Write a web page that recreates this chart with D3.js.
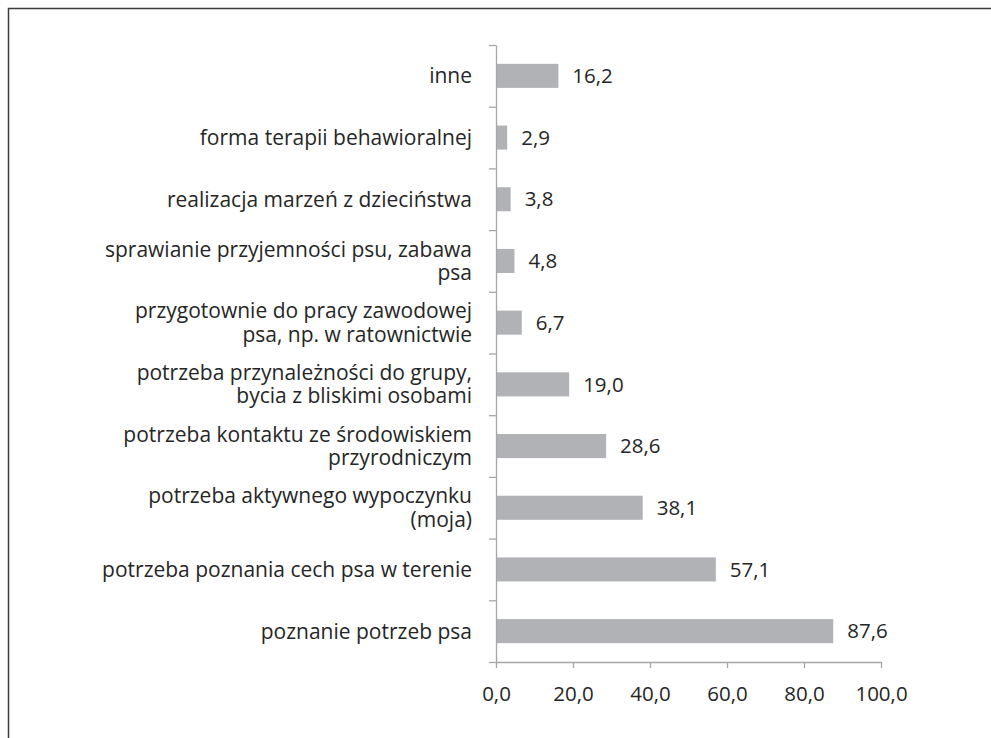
<!DOCTYPE html>
<html>
<head>
<meta charset="utf-8">
<script src="https://cdn.jsdelivr.net/npm/d3@7"></script>
<style>
  body { margin: 0; background: #fff; }
  svg text { font-family: "Open Sans", sans-serif; fill: #262626; }
</style>
</head>
<body>
<svg id="chart" width="991" height="738"></svg>
<script>
// categories top to bottom, line breaks as in the original
var categories = [
  "inne",
  "forma terapii behawioralnej",
  "realizacja marzeń z dzieciństwa",
  "sprawianie przyjemności psu, zabawa\npsa",
  "przygotownie do pracy zawodowej\npsa, np. w ratownictwie",
  "potrzeba przynależności do grupy,\nbycia z bliskimi osobami",
  "potrzeba kontaktu ze środowiskiem\nprzyrodniczym",
  "potrzeba aktywnego wypoczynku\n(moja)",
  "potrzeba poznania cech psa w terenie",
  "poznanie potrzeb psa"
];
var values = [16.2, 2.9, 3.8, 4.8, 6.7, 19.0, 28.6, 38.1, 57.1, 87.6];
var xTicks = [0, 20, 40, 60, 80, 100];

var fmt = function(d) { return d.toFixed(1).replace(".", ","); };

var svg = d3.select("#chart");

// frame of the figure (runs off the right and bottom edge)
svg.append("rect")
    .attr("x", 8.5).attr("y", 8.5)
    .attr("width", 1000).attr("height", 760)
    .attr("fill", "none")
    .attr("stroke", "#3c3c3c")
    .attr("stroke-width", 1.5);

var plotL = 496, plotR = 881, plotT = 45, plotB = 662;

var x = d3.scaleLinear().domain([0, 100]).range([plotL, plotR]);
var y = d3.scaleBand().domain(categories).range([plotT, plotB])
    .paddingInner(0.61).paddingOuter(0.305);
var yIdx = d3.scaleLinear().domain([0, categories.length]).range([plotT, plotB]);

// bars
svg.selectAll("rect.bar")
    .data(values)
    .enter()
    .append("rect")
    .attr("class", "bar")
    .attr("x", x(0))
    .attr("y", function(d, i) { return y(categories[i]); })
    .attr("width", function(d) { return x(d) - x(0); })
    .attr("height", y.bandwidth())
    .attr("fill", "#b1b2b5");

// value labels
svg.selectAll("text.val")
    .data(values)
    .enter()
    .append("text")
    .attr("class", "val")
    .attr("x", function(d) { return x(d) + 14; })
    .attr("y", function(d, i) { return y(categories[i]) + y.bandwidth() / 2; })
    .attr("dy", "0.35em")
    .style("font-size", "20.5px")
    .text(fmt);

// category labels
var lineH = 23.5;
svg.selectAll("text.cat")
    .data(categories)
    .enter()
    .append("text")
    .attr("class", "cat")
    .attr("text-anchor", "end")
    .style("font-size", "21px")
    .each(function(d) {
      var lines = d.split("\n");
      var cy = y(d) + y.bandwidth() / 2 - (lines.length - 1) * lineH / 2;
      var t = d3.select(this);
      lines.forEach(function(l, k) {
        t.append("tspan")
          .attr("x", 472)
          .attr("y", cy + k * lineH)
          .attr("dy", "0.35em")
          .text(l);
      });
    });

// vertical axis, ticks between categories
svg.append("g")
    .attr("transform", "translate(" + plotL + ",0)")
    .call(d3.axisLeft(yIdx).tickValues(d3.range(0, categories.length + 1))
      .tickSize(7).tickSizeOuter(0).tickFormat(""));

// horizontal axis
var xAxis = svg.append("g")
    .attr("transform", "translate(0," + plotB + ")")
    .call(d3.axisBottom(x).tickValues(xTicks).tickSize(6).tickSizeOuter(0)
      .tickPadding(18).tickFormat(fmt));

xAxis.selectAll("text").style("font-size", "20.5px").attr("fill", "#262626");
svg.selectAll(".domain, .tick line").attr("stroke", "#a6a6a6").attr("stroke-width", 1.3);
</script>
</body>
</html>
